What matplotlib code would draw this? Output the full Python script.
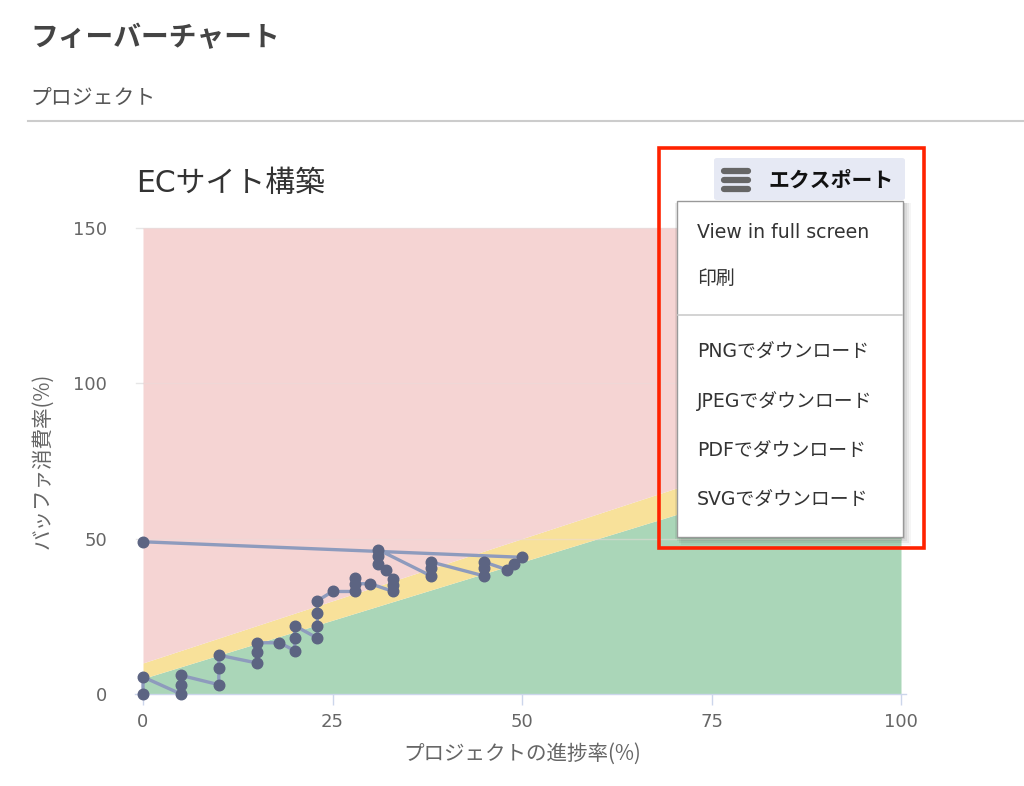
import matplotlib
matplotlib.use("Agg")
import matplotlib.pyplot as plt
from matplotlib.patches import Rectangle, FancyBboxPatch
from matplotlib.lines import Line2D
import numpy as np

plt.rcParams['font.family'] = ['DejaVu Sans', 'Noto Sans CJK JP']

# ---- data ----
progress = [0, 0, 5, 5, 5, 10, 10, 10, 15, 15, 15, 18, 20, 20, 20, 23, 23, 23, 23,
            25, 28, 28, 28, 30, 33, 33, 33, 32, 31, 31, 31, 38, 38, 38, 45, 45, 45,
            48, 49, 50, 0]
buffer = [0, 5.5, 0, 3, 6, 3, 8.5, 12.5, 10, 13.5, 16.5, 16.5, 14, 18, 22, 18, 22, 26, 30,
          33, 33, 37.5, 35.5, 35.5, 33, 35, 37, 40, 42, 44.5, 46.5, 38, 40.5, 42.5, 38, 40.5, 42.5,
          40, 42, 44, 49]

zone_x = [0, 100]
green_top = [5, 80]
yellow_top = [10, 90]
red_top = [150, 150]

x_ticks = [0, 25, 50, 75, 100]
y_ticks = [0, 50, 100, 150]

page_title = "フィーバーチャート"
section_title = "プロジェクト"
chart_title = "ECサイト構築"
x_label = "プロジェクトの進捗率(%)"
y_label = "バッファ消費率(%)"
menu_button = "エクスポート"
menu_items = ["View in full screen", "印刷", None, "PNGでダウンロード",
              "JPEGでダウンロード", "PDFでダウンロード", "SVGでダウンロード"]

W, H = 1024, 786
fig = plt.figure(figsize=(W / 100, H / 100), dpi=100)
fig.patch.set_facecolor('white')

def fx(x):
    return x / W

def fy(y):
    return 1 - y / H

# axes: plot area px 143..901 x 228..694
ax = fig.add_axes([fx(143), fy(694), (901 - 143) / W, (694 - 228) / H])
ax.set_xlim(0, 100)
ax.set_ylim(0, 150)

ax.fill_between(zone_x, 0, green_top, color='#aad6b8', lw=0, zorder=1)
ax.fill_between(zone_x, green_top, yellow_top, color='#f8e19a', lw=0, zorder=1)
ax.fill_between(zone_x, yellow_top, red_top, color='#f5d4d3', lw=0, zorder=1)

for yv in y_ticks[1:]:
    ax.axhline(yv, xmin=-0.009, xmax=1.0, color='#e6e6e6', lw=1, zorder=0.5, clip_on=False)
    ax.axhline(yv, xmin=0, xmax=1.0, color='#ebdada', lw=1, zorder=1.5, alpha=0.5)

ax.plot(progress, buffer, color='#8e9bbd', lw=2.4, zorder=3, clip_on=False)
ax.plot(progress, buffer, ls='none', marker='o', ms=7.6, color='#5c6482', zorder=4, clip_on=False)

for s in ['top', 'right', 'left']:
    ax.spines[s].set_visible(False)
ax.spines['bottom'].set_color('#ccd6eb')
ax.spines['bottom'].set_linewidth(1)
ax.spines['bottom'].set_bounds(-1, 100.7)

ax.set_xticks(x_ticks)
ax.set_yticks(y_ticks)
ax.tick_params(axis='x', direction='out', length=8, width=1, color='#ccd6eb',
               labelsize=13, labelcolor='#666666', pad=6)
ax.tick_params(axis='y', length=0, labelsize=13, labelcolor='#666666', pad=26)

ax.set_xlabel(x_label, fontsize=14.8, color='#666666', labelpad=8,
              family=['Noto Sans CJK JP', 'DejaVu Sans'])
ax.set_ylabel(y_label, fontsize=14.8, color='#666666', labelpad=14,
              family=['Noto Sans CJK JP', 'DejaVu Sans'])

# header texts
fig.text(fx(30), fy(38), page_title, fontsize=20, fontweight='bold', color='#444444',
         va='center', ha='left', family=['Noto Sans CJK JP'])
fig.text(fx(30), fy(98), section_title, fontsize=15, color='#555555',
         va='center', ha='left', family=['Noto Sans CJK JP'])
fig.add_artist(Line2D([fx(28), fx(1024)], [fy(121), fy(121)], color='#cccccc', lw=1.5))

fig.text(fx(136), fy(183), chart_title, fontsize=21.5, color='#333333',
         va='center', ha='left', family=['DejaVu Sans', 'Noto Sans CJK JP'])

# export button
fig.add_artist(FancyBboxPatch((fx(714), fy(200)), fx(905) - fx(714), fy(158) - fy(200),
                              boxstyle='round,pad=0,rounding_size=0.003',
                              facecolor='#e6e9f4', edgecolor='none', zorder=5))
for yy in [171, 180, 189]:
    fig.add_artist(Line2D([fx(724), fx(748)], [fy(yy), fy(yy)], color='#666666', lw=4.5,
                          solid_capstyle='round', zorder=6))
fig.text(fx(768), fy(180), menu_button, fontsize=15, fontweight='bold', color='#111111',
         va='center', ha='left', family=['Noto Sans CJK JP'], zorder=6)

# menu shadow
for i, a in enumerate([0.04, 0.05, 0.06, 0.07]):
    off = 8 - 2 * i
    fig.add_artist(Rectangle((fx(677 + off - 4), fy(537 + off)), fx(903 + off) - fx(677 + off - 4),
                             fy(203) - fy(537 + off), facecolor='black', alpha=a,
                             edgecolor='none', zorder=6))
fig.add_artist(Rectangle((fx(677), fy(537)), fx(903) - fx(677), fy(201) - fy(537),
                         facecolor='white', edgecolor='#999999', lw=1, zorder=7))
item_y = [232, 278, 315, 352, 401, 451, 500]
for txt, yy in zip(menu_items, item_y):
    if txt is None:
        fig.add_artist(Line2D([fx(678), fx(902)], [fy(yy), fy(yy)], color='#cccccc', lw=1.2, zorder=8))
    else:
        fig.text(fx(697), fy(yy), txt, fontsize=13.6, color='#333333', va='center', ha='left',
                 family=['DejaVu Sans', 'Noto Sans CJK JP'], zorder=8)

# red highlight frame
fig.add_artist(Rectangle((fx(659), fy(548)), fx(924) - fx(659), fy(148) - fy(548),
                         facecolor='none', edgecolor='#ff2200', lw=2.6, zorder=9))

fig.savefig('out.png', dpi=100)
